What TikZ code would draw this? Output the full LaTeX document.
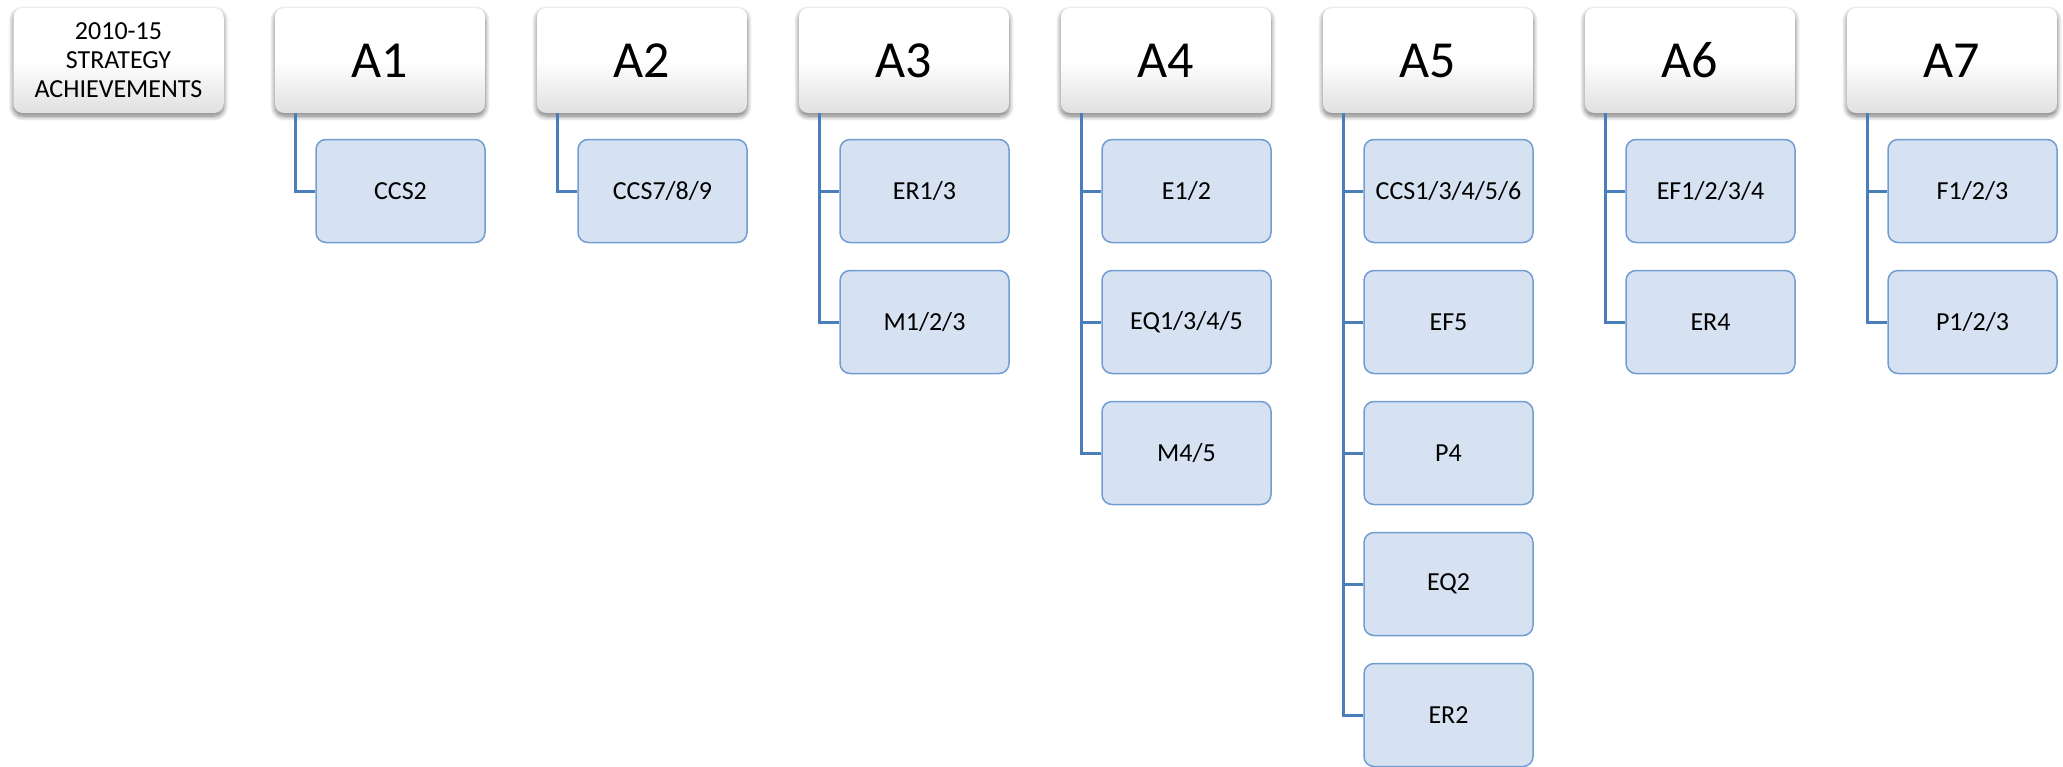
\documentclass[tikz,border=0pt]{standalone}
\usepackage{fontspec}
\setmainfont{Carlito}
\usetikzlibrary{shadows.blur}
\definecolor{childfill}{RGB}{214,225,241}
\definecolor{childline}{RGB}{114,157,210}
\definecolor{connline}{RGB}{74,126,187}
\definecolor{hdrbottom}{RGB}{224,224,224}
\tikzset{
  hdr/.style={rounded corners=9pt, minimum width=210pt, minimum height=105pt,
    inner sep=0pt, top color=white, bottom color=hdrbottom, middle color=white,
    draw=none,
    blur shadow={shadow xshift=0pt, shadow yshift=-3pt, shadow blur radius=5pt,
      shadow blur steps=10, shadow opacity=55},
    font=\fontsize{52}{60}\selectfont},
  lead/.style={hdr, align=center, font=\fontsize{26}{29}\selectfont},
  child/.style={rounded corners=10pt, minimum width=169pt, minimum height=103pt,
    inner sep=0pt, fill=childfill, draw=childline, line width=1.5pt,
    font=\fontsize{26}{30}\selectfont},
  conn/.style={draw=connline, line width=3pt}
}
\begin{document}
\begin{tikzpicture}[x=1pt, y=-1pt]
\useasboundingbox (0,0) rectangle (2063,766);
% title box and column headers
\node[lead] (t) at (118.5,60.5) {2010-15\\STRATEGY\\ACHIEVEMENTS};
\node[hdr] (h1) at (380,60.5) {A1};
\node[hdr] (h2) at (642,60.5) {A2};
\node[hdr] (h3) at (904,60.5) {A3};
\node[hdr] (h4) at (1166,60.5) {A4};
\node[hdr] (h5) at (1428,60.5) {A5};
\node[hdr] (h6) at (1690,60.5) {A6};
\node[hdr] (h7) at (1952,60.5) {A7};
% child items, rows 131pt apart
\node[child] (c11) at (400.5,191) {CCS2};
\node[child] (c21) at (662.5,191) {CCS7/8/9};
\node[child] (c31) at (924.5,191) {ER1/3};
\node[child] (c32) at (924.5,322) {M1/2/3};
\node[child] (c41) at (1186.5,191) {E1/2};
\node[child] (c42) at (1186.5,322) {EQ1/3/4/5};
\node[child] (c43) at (1186.5,453) {M4/5};
\node[child] (c51) at (1448.5,191) {CCS1/3/4/5/6};
\node[child] (c52) at (1448.5,322) {EF5};
\node[child] (c53) at (1448.5,453) {P4};
\node[child] (c54) at (1448.5,584) {EQ2};
\node[child] (c55) at (1448.5,715) {ER2};
\node[child] (c61) at (1710.5,191) {EF1/2/3/4};
\node[child] (c62) at (1710.5,322) {ER4};
\node[child] (c71) at (1972.5,191) {F1/2/3};
\node[child] (c72) at (1972.5,322) {P1/2/3};
% elbow connectors from each header to its items
\foreach \h/\c in {1/c11, 2/c21, 3/c31, 3/c32, 4/c41, 4/c42, 4/c43,
                   5/c51, 5/c52, 5/c53, 5/c54, 5/c55, 6/c61, 6/c62, 7/c71, 7/c72}
  \draw[conn] ([xshift=21pt]h\h.south west) |- (\c.west);
\end{tikzpicture}
\end{document}
